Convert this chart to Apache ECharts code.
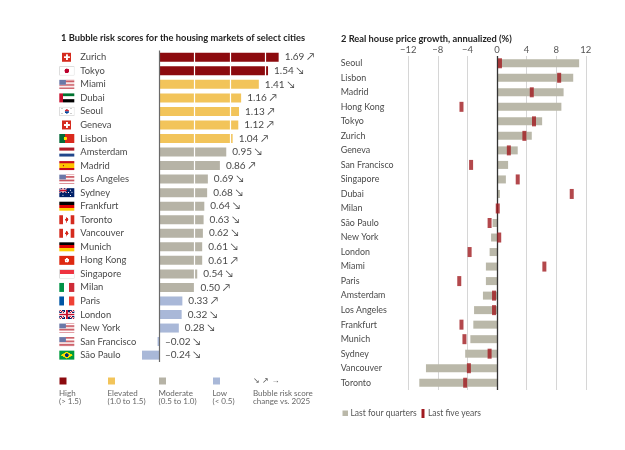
<!DOCTYPE html>
<html>
<head>
<meta charset="utf-8">
<script src="https://cdn.jsdelivr.net/npm/echarts@6/dist/echarts.min.js"></script>
<style>
  html, body { margin: 0; padding: 0; background: #fff; }
  #main { width: 625px; height: 450px; }
</style>
</head>
<body>
<div id="main"></div>
<script>
// chart 1: bubble risk scores
var cities = ['Zurich', 'Tokyo', 'Miami', 'Dubai', 'Seoul', 'Geneva', 'Lisbon', 'Amsterdam', 'Madrid', 'Los Angeles', 'Sydney', 'Frankfurt',
    'Toronto', 'Vancouver', 'Munich', 'Hong Kong', 'Singapore', 'Milan', 'Paris', 'London', 'New York', 'San Francisco', 'São Paulo'];
var flags = ['ch', 'jp', 'us', 'ae', 'kr', 'ch', 'pt', 'nl', 'es', 'us', 'au', 'de', 'ca', 'ca', 'de', 'hk', 'sg', 'it', 'fr', 'gb', 'us', 'us', 'br'];
var scores = [1.69, 1.54, 1.41, 1.16, 1.13, 1.12, 1.04, 0.95, 0.86, 0.69, 0.68, 0.64, 0.63, 0.62, 0.61, 0.61, 0.54, 0.50, 0.33, 0.32, 0.28, -0.02, -0.24];
var trend = ['↗', '↘', '↘', '↗', '↗', '↗', '↗', '↘', '↗', '↘', '↘', '↘', '↘', '↘', '↘', '↗', '↘', '↗', '↗', '↘', '↘', '↘', '↘'];

// chart 2: real house price growth
var growthCities = ['Seoul', 'Lisbon', 'Madrid', 'Hong Kong', 'Tokyo', 'Zurich', 'Geneva', 'San Francisco', 'Singapore', 'Dubai', 'Milan', 'São Paulo',
    'New York', 'London', 'Miami', 'Paris', 'Amsterdam', 'Los Angeles', 'Frankfurt', 'Munich', 'Sydney', 'Vancouver', 'Toronto'];
var lastFourQuarters = [11.1, 10.3, 9.0, 8.7, 6.1, 4.7, 2.8, 1.5, 1.2, 0.4, -0.1, -0.6, -0.8, -1.0, -1.5, -1.5, -1.9, -3.1, -3.2, -3.6, -4.3, -9.6, -10.5];
var lastFiveYears = [0.4, 8.4, 4.7, -4.8, 5.0, 3.7, 1.6, -3.5, 2.8, 10.1, 0.1, -1.0, 0.3, -3.7, 6.4, -5.1, -0.4, -0.4, -4.8, -4.4, -1.0, -3.8, -4.3];
var growthTicks = [-12, -8, -4, 0, 4, 8, 12];

var FONT = 'Lato, "Noto Sans", sans-serif';
var riskColors = { high: '#8c0a0e', elevated: '#f2c45a', moderate: '#b6b3a6', low: '#a9b8d8' };

function riskColor(v) {
    if (v > 1.5) return riskColors.high;
    if (v >= 1.0) return riskColors.elevated;
    if (v >= 0.5) return riskColors.moderate;
    return riskColors.low;
}

// small flag pictures for the city labels
function mk(fn) {
    var c = document.createElement('canvas');
    c.width = 45; c.height = 27;
    var g = c.getContext('2d');
    fn(g, 45, 27);
    return c;
}
function hs(g, cols) {
    var h = 27 / cols.length;
    cols.forEach(function (c, i) { g.fillStyle = c; g.fillRect(0, i * h, 45, h + 0.5); });
}
function vs(g, cols) {
    var w = 45 / cols.length;
    cols.forEach(function (c, i) { g.fillStyle = c; g.fillRect(i * w, 0, w + 0.5, 27); });
}
function union(g, w, h) {
    g.fillStyle = '#012169'; g.fillRect(0, 0, w, h);
    g.strokeStyle = '#fff'; g.lineWidth = h / 5;
    g.beginPath(); g.moveTo(0, 0); g.lineTo(w, h); g.moveTo(w, 0); g.lineTo(0, h); g.stroke();
    g.strokeStyle = '#c8102e'; g.lineWidth = h / 12;
    g.beginPath(); g.moveTo(0, 0); g.lineTo(w, h); g.moveTo(w, 0); g.lineTo(0, h); g.stroke();
    g.fillStyle = '#fff';
    g.fillRect(w / 2 - h / 6, 0, h / 3, h); g.fillRect(0, h / 3, w, h / 3);
    g.fillStyle = '#c8102e';
    g.fillRect(w / 2 - h / 10, 0, h / 5, h); g.fillRect(0, h * 0.4, w, h / 5);
}
var flagPics = {
    ch: mk(function (g) {
        g.fillStyle = '#d52b1e'; g.fillRect(9, 0, 27, 27);
        g.fillStyle = '#fff'; g.fillRect(20, 5, 5, 17); g.fillRect(14, 11, 17, 5);
    }),
    jp: mk(function (g) {
        g.fillStyle = '#fff'; g.fillRect(0, 0, 45, 27);
        g.strokeStyle = '#ccc'; g.lineWidth = 1.5; g.strokeRect(0.75, 0.75, 43.5, 25.5);
        g.fillStyle = '#bc002d'; g.beginPath(); g.arc(22.5, 13.5, 7, 0, Math.PI * 2); g.fill();
    }),
    us: mk(function (g) {
        for (var i = 0; i < 13; i++) { g.fillStyle = i % 2 ? '#fff' : '#c8505a'; g.fillRect(0, i * 27 / 13, 45, 27 / 13 + 0.3); }
        g.fillStyle = '#6b78a8'; g.fillRect(0, 0, 19, 14.5);
    }),
    ae: mk(function (g) {
        g.fillStyle = '#00732f'; g.fillRect(0, 0, 45, 9);
        g.fillStyle = '#fff'; g.fillRect(0, 9, 45, 9);
        g.fillStyle = '#000'; g.fillRect(0, 18, 45, 9);
        g.fillStyle = '#c8102e'; g.fillRect(0, 0, 12, 27);
    }),
    kr: mk(function (g) {
        g.fillStyle = '#fff'; g.fillRect(0, 0, 45, 27);
        g.strokeStyle = '#ccc'; g.lineWidth = 1.5; g.strokeRect(0.75, 0.75, 43.5, 25.5);
        g.fillStyle = '#cd2e3a'; g.beginPath(); g.arc(22.5, 13.5, 6.5, Math.PI, 0); g.fill();
        g.fillStyle = '#0047a0'; g.beginPath(); g.arc(22.5, 13.5, 6.5, 0, Math.PI); g.fill();
        g.fillStyle = '#222';
        g.fillRect(6, 5, 6, 2); g.fillRect(33, 5, 6, 2); g.fillRect(6, 20, 6, 2); g.fillRect(33, 20, 6, 2);
    }),
    pt: mk(function (g) {
        g.fillStyle = '#046a38'; g.fillRect(0, 0, 18, 27);
        g.fillStyle = '#da291c'; g.fillRect(18, 0, 27, 27);
        g.fillStyle = '#ffe900'; g.beginPath(); g.arc(18, 13.5, 5, 0, Math.PI * 2); g.fill();
    }),
    nl: mk(function (g) { hs(g, ['#ae1c28', '#fff', '#21468b']); }),
    es: mk(function (g) {
        g.fillStyle = '#c60b1e'; g.fillRect(0, 0, 45, 27);
        g.fillStyle = '#ffc400'; g.fillRect(0, 7, 45, 13);
        g.fillStyle = '#ad1519'; g.fillRect(10, 11, 4, 5);
    }),
    au: mk(function (g) {
        g.fillStyle = '#012169'; g.fillRect(0, 0, 45, 27);
        union(g, 22, 13.5);
        g.fillStyle = '#fff';
        [[11, 21], [33, 6], [28, 13], [38, 12], [34, 22]].forEach(function (p) {
            g.beginPath(); g.arc(p[0], p[1], 1.8, 0, Math.PI * 2); g.fill();
        });
    }),
    de: mk(function (g) { hs(g, ['#000', '#dd0000', '#ffce00']); }),
    ca: mk(function (g) {
        vs(g, ['#d52b1e', '#fff', '#fff', '#d52b1e']);
        g.fillStyle = '#d52b1e';
        g.beginPath(); g.moveTo(22.5, 5); g.lineTo(28, 14); g.lineTo(22.5, 20); g.lineTo(17, 14); g.closePath(); g.fill();
        g.fillRect(21.5, 18, 2, 5);
    }),
    hk: mk(function (g) {
        g.fillStyle = '#de2910'; g.fillRect(0, 0, 45, 27);
        g.fillStyle = '#fff';
        for (var i = 0; i < 5; i++) {
            var a = i * Math.PI * 2 / 5 - Math.PI / 2;
            g.beginPath(); g.arc(22.5 + Math.cos(a) * 4, 13.5 + Math.sin(a) * 4, 3, 0, Math.PI * 2); g.fill();
        }
    }),
    sg: mk(function (g) {
        hs(g, ['#ef3340', '#fff']);
        g.strokeStyle = '#ccc'; g.lineWidth = 1.5; g.strokeRect(0.75, 0.75, 43.5, 25.5);
    }),
    it: mk(function (g) { vs(g, ['#009246', '#fff', '#ce2b37']); }),
    fr: mk(function (g) { vs(g, ['#0055a4', '#fff', '#ef4135']); }),
    gb: mk(function (g) { union(g, 45, 27); }),
    br: mk(function (g) {
        g.fillStyle = '#009c3b'; g.fillRect(0, 0, 45, 27);
        g.fillStyle = '#ffdf00';
        g.beginPath(); g.moveTo(22.5, 3); g.lineTo(41, 13.5); g.lineTo(22.5, 24); g.lineTo(4, 13.5); g.closePath(); g.fill();
        g.fillStyle = '#002776'; g.beginPath(); g.arc(22.5, 13.5, 5.5, 0, Math.PI * 2); g.fill();
    })
};

var rich = {
    n: { fontFamily: FONT, fontSize: 9.4, color: '#4a4a4a', padding: [0, 0, 0, 6], lineHeight: 12 }
};
Object.keys(flagPics).forEach(function (k) {
    rich[k] = { width: 15, height: 9, backgroundColor: { image: flagPics[k] } };
});

function fmtScore(v) {
    return v.toFixed(2).replace('-', '–');
}

var chart = echarts.init(document.getElementById('main'), null, { renderer: 'canvas' });

var option = {
    backgroundColor: '#fff',
    animation: false,
    title: [
        {
            text: '1 Bubble risk scores for the housing markets of select cities',
            left: 61, top: 33.5, padding: 0,
            textStyle: { fontFamily: FONT, fontSize: 9.3, fontWeight: 'bold', color: '#222' }
        },
        {
            text: '2 Real house price growth, annualized (%)',
            left: 341, top: 34, padding: 0,
            textStyle: { fontFamily: FONT, fontSize: 9.3, fontWeight: 'bold', color: '#222' }
        }
    ],
    grid: [
        { left: 123.6, top: 50.5, width: 177, height: 311.4 },
        { left: 408.2, top: 56, width: 177.6, height: 334 }
    ],
    xAxis: [
        { gridIndex: 0, type: 'value', min: -0.5, max: 2.0, show: false },
        {
            gridIndex: 1, type: 'value', position: 'top',
            min: growthTicks[0], max: growthTicks[growthTicks.length - 1], interval: 4,
            axisLine: { show: false }, axisTick: { show: false },
            axisLabel: {
                margin: 1, fontFamily: FONT, fontSize: 9.5, color: '#555',
                formatter: function (v) { return String(v).replace('-', '−'); }
            },
            splitLine: { show: true, lineStyle: { color: '#d6d6d6', width: 1 } }
        }
    ],
    yAxis: [
        {
            gridIndex: 0, type: 'category', inverse: true, data: cities,
            axisLine: { show: false }, axisTick: { show: false },
            axisLabel: {
                interval: 0, align: 'left', margin: 64.3,
                formatter: function (v, i) { return '{' + flags[i] + '|}{n|' + v + '}'; },
                rich: rich
            }
        },
        {
            gridIndex: 1, type: 'category', inverse: true, data: growthCities,
            axisLine: { show: false }, axisTick: { show: false },
            axisLabel: { interval: 0, align: 'left', margin: 67.5, fontFamily: FONT, fontSize: 8.9, color: '#4a4a4a' }
        }
    ],
    series: [
        {
            name: 'Bubble risk score', type: 'bar', xAxisIndex: 0, yAxisIndex: 0,
            barWidth: 9,
            data: scores.map(function (v) { return { value: v, itemStyle: { color: riskColor(v) } }; }),
            markLine: {
                silent: true, symbol: 'none', label: { show: false },
                data: [
                    { xAxis: 0.5, lineStyle: { color: '#fff', width: 1.2, type: 'solid' } },
                    { xAxis: 1.0, lineStyle: { color: '#fff', width: 1.2, type: 'solid' } },
                    { xAxis: 1.5, lineStyle: { color: '#fff', width: 1.2, type: 'solid' } },
                    { xAxis: 0, lineStyle: { color: '#6a6a6a', width: 1.2, type: 'solid' } }
                ]
            }
        },
        {
            // transparent copy that carries the value labels above the white lines
            name: 'labels', type: 'bar', xAxisIndex: 0, yAxisIndex: 0,
            barWidth: 9, barGap: '-100%', z: 6, silent: true,
            itemStyle: { color: 'rgba(0,0,0,0)' },
            label: {
                show: true, position: 'right', distance: 6,
                fontFamily: FONT, fontSize: 10, color: '#4a4a4a',
                formatter: function (p) { return fmtScore(p.value) + ' ' + trend[p.dataIndex]; }
            },
            data: scores
        },
        {
            name: 'Last four quarters', type: 'bar', xAxisIndex: 1, yAxisIndex: 1,
            barWidth: 8, itemStyle: { color: '#bab8a9' },
            data: lastFourQuarters,
            markLine: {
                silent: true, symbol: 'none', label: { show: false },
                lineStyle: { color: '#333', width: 1.3, type: 'solid' },
                data: [{ xAxis: 0 }]
            }
        },
        {
            name: 'Last five years', type: 'scatter', xAxisIndex: 1, yAxisIndex: 1,
            symbol: 'rect', symbolSize: [4, 10], z: 6,
            itemStyle: { color: '#a01a1f' },
            data: lastFiveYears.map(function (v, i) { return [v, i]; })
        }
    ],
    graphic: [
        // left legend
        { type: 'rect', shape: { x: 59.5, y: 377.5, width: 7, height: 7 }, style: { fill: riskColors.high } },
        { type: 'rect', shape: { x: 108, y: 377.5, width: 7, height: 7 }, style: { fill: riskColors.elevated } },
        { type: 'rect', shape: { x: 159, y: 377.5, width: 7, height: 7 }, style: { fill: riskColors.moderate } },
        { type: 'rect', shape: { x: 213, y: 377.5, width: 7, height: 7 }, style: { fill: riskColors.low } },
        { type: 'text', x: 253, y: 381, style: { text: '↘ ↗ →', fontSize: 8, fill: '#555', verticalAlign: 'middle' } },
        { type: 'text', x: 59, y: 389, style: { text: 'High\n(> 1.5)', fontFamily: FONT, fontSize: 8, lineHeight: 8, fill: '#666' } },
        { type: 'text', x: 107.5, y: 389, style: { text: 'Elevated\n(1.0 to 1.5)', fontFamily: FONT, fontSize: 8, lineHeight: 8, fill: '#666' } },
        { type: 'text', x: 158.5, y: 389, style: { text: 'Moderate\n(0.5 to 1.0)', fontFamily: FONT, fontSize: 8, lineHeight: 8, fill: '#666' } },
        { type: 'text', x: 212.5, y: 389, style: { text: 'Low\n(< 0.5)', fontFamily: FONT, fontSize: 8, lineHeight: 8, fill: '#666' } },
        { type: 'text', x: 253, y: 389, style: { text: 'Bubble risk score\nchange vs. 2025', fontFamily: FONT, fontSize: 8, lineHeight: 8, fill: '#666' } },
        // right legend
        { type: 'rect', shape: { x: 342.5, y: 410.5, width: 5.5, height: 5.5 }, style: { fill: '#bab8a9' } },
        { type: 'text', x: 350.5, y: 413.5, style: { text: 'Last four quarters', fontFamily: FONT, fontSize: 8.5, fill: '#555', verticalAlign: 'middle' } },
        { type: 'rect', shape: { x: 421.5, y: 409, width: 3, height: 9 }, style: { fill: '#a01a1f' } },
        { type: 'text', x: 428, y: 413.5, style: { text: 'Last five years', fontFamily: FONT, fontSize: 8.5, fill: '#555', verticalAlign: 'middle' } }
    ]
};

chart.setOption(option);
</script>
</body>
</html>
